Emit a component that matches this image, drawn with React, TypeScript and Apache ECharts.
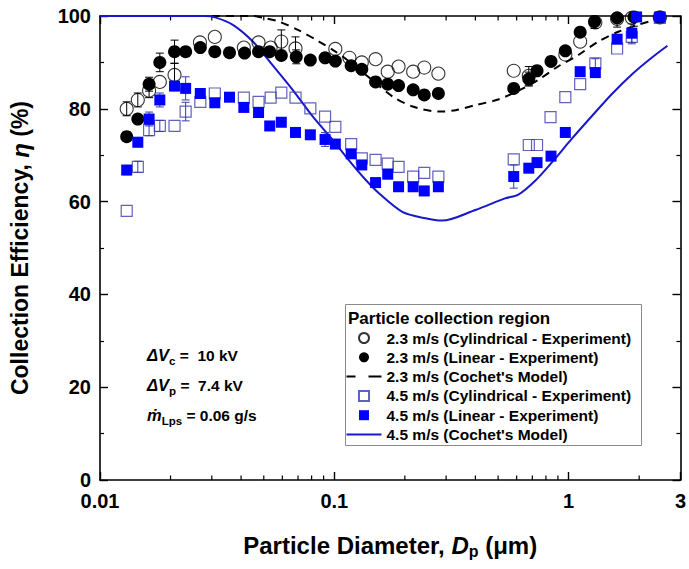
import React, { useEffect, useRef } from "react";
import * as echarts from "echarts";

const FONT = '"Liberation Sans", Arial, Helvetica, sans-serif';

const NAME_CYL23 = "2.3 m/s (Cylindrical - Experiment)";
const NAME_LIN23 = "2.3 m/s (Linear - Experiment)";
const NAME_MOD23 = "2.3 m/s (Cochet's Model)";
const NAME_CYL45 = "4.5 m/s (Cylindrical - Experiment)";
const NAME_LIN45 = "4.5 m/s (Linear - Experiment)";
const NAME_MOD45 = "4.5 m/s (Cochet's Model)";

const cyl23X = [0.013, 0.0145, 0.0162, 0.018, 0.0208, 0.0267, 0.0309, 0.0411, 0.0475, 0.0535, 0.0594, 0.0683, 0.101, 0.116, 0.131, 0.15, 0.169, 0.188, 0.217, 0.242, 0.278, 0.583, 0.676, 0.968, 1.12, 1.3, 1.61, 1.86, 2.45];
const cyl23Y = [80.0, 81.9, 83.9, 85.8, 87.3, 94.3, 95.5, 93.2, 94.3, 93.2, 94.5, 93.0, 92.9, 91.0, 90.0, 90.7, 88.0, 89.1, 88.0, 88.9, 87.6, 88.2, 87.1, 91.7, 94.5, 98.6, 99.4, 99.6, 99.7];
const cyl23Err = [1.5, 1.5, 1.5, 0, 2.5, 0, 0, 0, 0, 0, 2.5, 2.5, 0, 0, 0, 0, 0, 0, 0, 0, 0, 0, 2, 0, 0, 0, 0, 0, 0];

const lin23X = [0.013, 0.0145, 0.0162, 0.018, 0.0208, 0.0232, 0.0268, 0.0309, 0.0357, 0.0414, 0.0475, 0.053, 0.0594, 0.0688, 0.079, 0.0913, 0.101, 0.118, 0.131, 0.15, 0.169, 0.188, 0.217, 0.242, 0.278, 0.583, 0.676, 0.733, 0.841, 0.968, 1.12, 1.29, 1.61, 1.9, 2.45];
const lin23Y = [74.0, 77.8, 85.3, 90.0, 92.3, 92.3, 93.2, 92.3, 92.1, 92.0, 92.3, 92.3, 91.5, 91.2, 90.5, 91.0, 90.3, 89.3, 88.5, 85.8, 85.3, 85.0, 84.1, 83.0, 83.3, 84.4, 86.4, 88.2, 90.2, 92.5, 96.5, 98.8, 99.6, 99.8, 99.7];
const lin23Err = [1, 1, 1.5, 2, 2.5, 0, 0, 1, 1, 0, 0, 0, 0, 1.5, 0, 1, 0, 0, 0, 0, 0, 0, 0, 0, 0, 0, 1.5, 0, 0, 0, 0, 1.5, 2, 2, 1];

const cyl45X = [0.013, 0.0145, 0.0162, 0.018, 0.0208, 0.0232, 0.0268, 0.0309, 0.0411, 0.0475, 0.0535, 0.0594, 0.0683, 0.079, 0.0913, 0.101, 0.118, 0.131, 0.15, 0.169, 0.188, 0.217, 0.242, 0.278, 0.583, 0.676, 0.733, 0.837, 0.968, 1.12, 1.3, 1.61, 1.86, 2.45];
const cyl45Y = [58.0, 67.5, 75.4, 76.3, 76.3, 79.4, 81.5, 83.3, 82.4, 81.5, 82.4, 83.5, 82.4, 80.1, 78.3, 76.1, 72.4, 69.3, 69.0, 68.2, 67.5, 65.4, 66.2, 65.4, 69.1, 72.2, 72.2, 78.2, 82.5, 85.3, 89.8, 93.0, 95.5, 99.6];
const cyl45Err = [0, 1.2, 1.2, 1.2, 0, 2, 0, 0, 0, 0, 0, 0, 0, 0, 0, 0, 0, 0, 0, 0, 0, 0, 0, 0, 0, 0, 0, 0, 0, 0, 1, 0, 1.5, 0];

const lin45X = [0.013, 0.0145, 0.0162, 0.018, 0.0208, 0.0232, 0.0268, 0.0309, 0.0357, 0.0411, 0.0475, 0.053, 0.0594, 0.0683, 0.079, 0.0913, 0.101, 0.118, 0.131, 0.15, 0.169, 0.188, 0.217, 0.242, 0.278, 0.583, 0.676, 0.733, 0.841, 0.968, 1.12, 1.3, 1.61, 1.86, 1.95, 2.45];
const lin45Y = [66.8, 72.8, 77.8, 81.9, 84.9, 84.4, 83.3, 81.3, 82.5, 80.3, 79.2, 76.3, 77.1, 74.9, 74.4, 73.4, 72.4, 70.3, 67.9, 64.1, 65.9, 63.2, 63.2, 62.3, 63.2, 65.4, 67.2, 68.4, 69.8, 74.9, 88.0, 87.8, 95.0, 96.3, 99.8, 99.8];
const lin45Err = [1, 1, 1.5, 1.5, 1, 2.5, 0, 0, 0, 0, 0, 0, 0, 0, 0, 1.5, 0, 0, 0, 0, 0, 0, 0, 0, 0, 2.5, 0, 0, 0, 0, 0, 0, 0, 2, 0, 1];

const model23X = [0.01, 0.02, 0.03, 0.045, 0.05, 0.058, 0.07, 0.086, 0.1, 0.12, 0.145, 0.178, 0.216, 0.28, 0.33, 0.4, 0.5, 0.61, 0.74, 0.9, 1.1, 1.34, 1.63, 1.98, 2.2];
const model23Y = [100, 100, 100, 100, 99.6, 98.8, 97.0, 94.5, 92.5, 89.6, 86.2, 82.6, 80.5, 79.4, 79.7, 80.8, 82.0, 83.9, 86.2, 89.1, 91.6, 94.5, 96.6, 98.1, 98.8];

const model45X = [0.01, 0.02, 0.028, 0.031, 0.0369, 0.0449, 0.0545, 0.0664, 0.081, 0.0985, 0.115, 0.136, 0.155, 0.195, 0.245, 0.288, 0.4, 0.535, 0.61, 0.72, 0.85, 1.03, 1.26, 1.53, 1.86, 2.26, 2.64];
const model45Y = [100, 100, 100, 99.7, 98.1, 94.5, 89.4, 84.1, 78.3, 73.3, 69.0, 64.7, 61.8, 57.8, 56.4, 55.9, 58.2, 60.7, 61.5, 64.5, 68.5, 73.5, 78.5, 83.2, 87.4, 91.0, 93.6];

const minorTicksX = [0.02, 0.03, 0.04, 0.05, 0.06, 0.07, 0.08, 0.09, 0.2, 0.3, 0.4, 0.5, 0.6, 0.7, 0.8, 0.9, 2];

const X_MIN = 0.01;
const X_MAX = 3;
const Y_MIN = 0;
const Y_MAX = 100;

const BLACK = "#000000";
const BLUE_FILL = "#0000ff";
const BLUE_OPEN = "#3a3aae";
const BLUE_LINE = "#1818c8";

const ICON_SQUARE = "path://M0,0H10V10H0Z";
const ICON_DASH = "path://M0,0H9V2H0Z M22,0H35V2H22Z";
const ICON_SOLID = "path://M0,0H35V2H0Z";

const zip = (xs: number[], ys: number[]) => xs.map((x, i) => [x, ys[i]]);
const errs = (xs: number[], ys: number[], es: number[], c: number) =>
  xs.map((x, i) => [x, ys[i], es[i], c]).filter((d) => d[2] > 0);

function buildOption() {
  const errData = [
    ...errs(cyl23X, cyl23Y, cyl23Err, 0),
    ...errs(lin23X, lin23Y, lin23Err, 0),
    ...errs(cyl45X, cyl45Y, cyl45Err, 1),
    ...errs(lin45X, lin45Y, lin45Err, 1),
  ];

  const axisLine = { show: true, onZero: false, lineStyle: { color: BLACK, width: 1.6 } };
  const labelStyle = { fontFamily: FONT, fontWeight: "bold" as const, fontSize: 20, color: BLACK };

  return {
    animation: false,
    backgroundColor: "#ffffff",
    grid: { left: 100, right: 8, top: 16, bottom: 89, containLabel: false },
    xAxis: [
      {
        type: "log",
        logBase: 10,
        min: X_MIN,
        max: X_MAX,
        position: "bottom",
        axisLine,
        axisTick: { show: true, inside: true, length: 8, lineStyle: { color: BLACK, width: 1.4 } },
        splitLine: { show: false },
        axisLabel: {
          ...labelStyle,
          margin: 11,
          showMinLabel: true,
          showMaxLabel: true,
          formatter: (v: number) => String(Number(v.toPrecision(6))),
        },
        name: "Particle Diameter, {i|D}{s|p} (μm)",
        nameLocation: "middle",
        nameGap: 51,
        nameTextStyle: {
          fontFamily: FONT,
          fontWeight: "bold",
          fontSize: 24,
          color: BLACK,
          rich: {
            i: { fontFamily: FONT, fontWeight: "bold", fontStyle: "italic", fontSize: 24, color: BLACK, lineHeight: 28 },
            s: { fontFamily: FONT, fontWeight: "bold", fontSize: 16, color: BLACK, lineHeight: 16, verticalAlign: "bottom" },
          },
        },
      },
      {
        type: "log",
        logBase: 10,
        min: X_MIN,
        max: X_MAX,
        position: "top",
        axisLine,
        axisTick: { show: true, inside: true, length: 8, lineStyle: { color: BLACK, width: 1.4 } },
        splitLine: { show: false },
        axisLabel: { show: false },
      },
    ],
    yAxis: [
      {
        type: "value",
        min: Y_MIN,
        max: Y_MAX,
        interval: 20,
        position: "left",
        axisLine,
        axisTick: { show: true, inside: true, length: 8, lineStyle: { color: BLACK, width: 1.4 } },
        minorTick: { show: true, splitNumber: 2, length: 4, lineStyle: { color: BLACK, width: 1.2 } },
        splitLine: { show: false },
        axisLabel: { ...labelStyle, margin: 9 },
        name: "Collection Efficiency, {i|η} (%)",
        nameLocation: "middle",
        nameGap: 68,
        nameTextStyle: {
          fontFamily: FONT,
          fontWeight: "bold",
          fontSize: 23,
          color: BLACK,
          rich: {
            i: { fontFamily: FONT, fontWeight: "bold", fontStyle: "italic", fontSize: 24, color: BLACK },
          },
        },
      },
      {
        type: "value",
        min: Y_MIN,
        max: Y_MAX,
        interval: 20,
        position: "right",
        axisLine,
        axisTick: { show: true, inside: true, length: 8, lineStyle: { color: BLACK, width: 1.4 } },
        minorTick: { show: true, splitNumber: 2, length: 4, lineStyle: { color: BLACK, width: 1.2 } },
        splitLine: { show: false },
        axisLabel: { show: false },
      },
    ],
    legend: {
      left: 341.5,
      top: 324.5,
      orient: "vertical",
      itemWidth: 35,
      itemHeight: 10,
      itemGap: 2.3,
      selectedMode: false,
      symbolKeepAspect: true,
      textStyle: { fontFamily: FONT, fontWeight: "bold", fontSize: 15.5, color: BLACK, lineHeight: 17 },
      data: [
        { name: NAME_CYL23, icon: "circle" },
        { name: NAME_LIN23, icon: "circle" },
        { name: NAME_MOD23, icon: ICON_DASH },
        { name: NAME_CYL45, icon: ICON_SQUARE },
        { name: NAME_LIN45, icon: ICON_SQUARE },
        { name: NAME_MOD45, icon: ICON_SOLID },
      ],
    },
    graphic: [
      {
        type: "rect",
        shape: { x: 345.5, y: 304.5, width: 296, height: 141 },
        style: { fill: "none", stroke: "#8a8a8a", lineWidth: 1 },
        silent: true,
      },
      {
        type: "text",
        x: 348,
        y: 318,
        style: {
          text: "Particle collection region",
          fill: BLACK,
          fontFamily: FONT,
          fontWeight: "bold",
          fontSize: 17,
          align: "left",
          verticalAlign: "middle",
        },
        silent: true,
      },
      ...[
        { y: 355, t: "{i|ΔV}{s|c}{n| =  10 kV}" },
        { y: 385, t: "{i|ΔV}{s|p}{n| =  7.4 kV}" },
        { y: 415, t: "{i|ṁ}{s|Lps}{n| = 0.06 g/s}" },
      ].map((a) => ({
        type: "text",
        x: 147,
        y: a.y,
        silent: true,
        style: {
          text: a.t,
          align: "left",
          verticalAlign: "middle",
          fill: BLACK,
          fontFamily: FONT,
          fontWeight: "bold",
          fontSize: 15.5,
          rich: {
            i: { fill: BLACK, fontFamily: FONT, fontWeight: "bold", fontStyle: "italic", fontSize: 16.5, lineHeight: 24 },
            s: { fill: BLACK, fontFamily: FONT, fontWeight: "bold", fontSize: 11.5, lineHeight: 12, verticalAlign: "bottom" },
            n: { fill: BLACK, fontFamily: FONT, fontWeight: "bold", fontSize: 15.5, lineHeight: 24 },
          },
        },
      })),
    ],
    series: [
      {
        name: "minor-ticks",
        type: "custom",
        silent: true,
        xAxisIndex: 0,
        yAxisIndex: 0,
        data: minorTicksX.map((v) => [v, Y_MIN]),
        renderItem: (_p: any, api: any) => {
          const x = api.value(0);
          const b = api.coord([x, Y_MIN]);
          const t = api.coord([x, Y_MAX]);
          const st = { stroke: BLACK, lineWidth: 1.2 };
          return {
            type: "group",
            children: [
              { type: "line", shape: { x1: b[0], y1: b[1], x2: b[0], y2: b[1] - 4.5 }, style: st },
              { type: "line", shape: { x1: t[0], y1: t[1], x2: t[0], y2: t[1] + 4.5 }, style: st },
            ],
          };
        },
        z: 1,
      },
      {
        name: NAME_MOD23,
        type: "line",
        data: zip(model23X, model23Y),
        symbol: "none",
        smooth: 0.3,
        lineStyle: { color: BLACK, width: 2, type: [8, 6] },
        itemStyle: { color: BLACK },
        z: 2,
      },
      {
        name: NAME_MOD45,
        type: "line",
        data: zip(model45X, model45Y),
        symbol: "none",
        smooth: 0.3,
        lineStyle: { color: BLUE_LINE, width: 2 },
        itemStyle: { color: BLUE_LINE },
        z: 2,
      },
      {
        name: "error-bars",
        type: "custom",
        silent: true,
        data: errData,
        renderItem: (_p: any, api: any) => {
          const x = api.value(0);
          const y = api.value(1);
          const e = api.value(2);
          const c = api.value(3) === 1 ? BLUE_OPEN : BLACK;
          const hi = api.coord([x, Math.min(y + e, Y_MAX)]);
          const lo = api.coord([x, y - e]);
          const st = { stroke: c, lineWidth: 1 };
          return {
            type: "group",
            children: [
              { type: "line", shape: { x1: hi[0], y1: hi[1], x2: lo[0], y2: lo[1] }, style: st },
              { type: "line", shape: { x1: hi[0] - 4, y1: hi[1], x2: hi[0] + 4, y2: hi[1] }, style: st },
              { type: "line", shape: { x1: lo[0] - 4, y1: lo[1], x2: lo[0] + 4, y2: lo[1] }, style: st },
            ],
          };
        },
        z: 3,
      },
      {
        name: NAME_CYL23,
        type: "scatter",
        data: zip(cyl23X, cyl23Y),
        symbol: "circle",
        symbolSize: 13,
        itemStyle: { color: "rgba(255,255,255,0)", borderColor: BLACK, borderWidth: 1.1 },
        z: 4,
      },
      {
        name: NAME_LIN23,
        type: "scatter",
        data: zip(lin23X, lin23Y),
        symbol: "circle",
        symbolSize: 13,
        itemStyle: { color: BLACK, opacity: 1 },
        z: 5,
      },
      {
        name: NAME_CYL45,
        type: "scatter",
        data: zip(cyl45X, cyl45Y),
        symbol: "rect",
        symbolSize: 11,
        itemStyle: { color: "rgba(255,255,255,0)", borderColor: BLUE_OPEN, borderWidth: 1.2 },
        z: 6,
      },
      {
        name: NAME_LIN45,
        type: "scatter",
        data: zip(lin45X, lin45Y),
        symbol: "rect",
        symbolSize: 11,
        itemStyle: { color: BLUE_FILL, opacity: 1 },
        z: 7,
      },
    ],
  };
}

export default function App() {
  const ref = useRef<HTMLDivElement>(null);
  useEffect(() => {
    document.body.style.margin = "0";
    if (!ref.current) return;
    const chart = echarts.init(ref.current, null, { renderer: "svg" });
    chart.setOption(buildOption() as any);
    return () => chart.dispose();
  }, []);
  return <div ref={ref} style={{ width: 689, height: 569, background: "#fff" }} />;
}
